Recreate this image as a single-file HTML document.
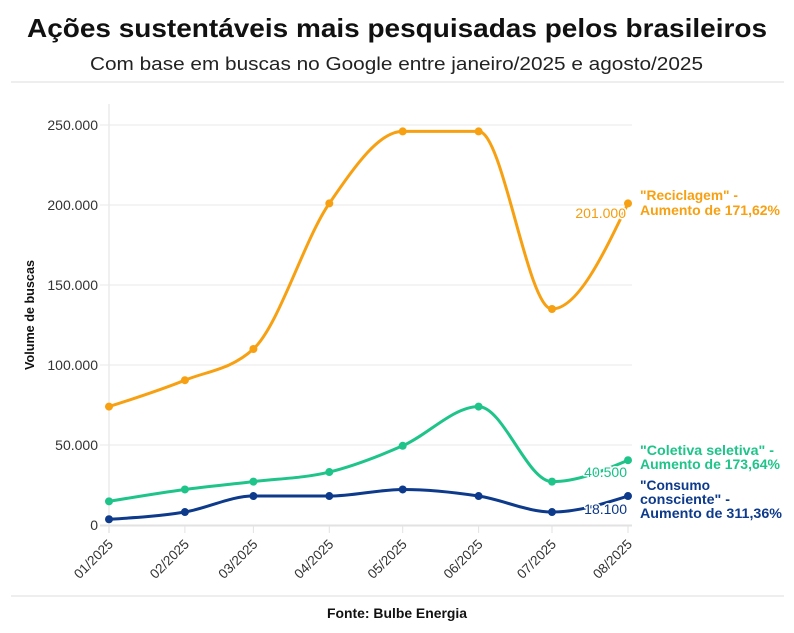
<!DOCTYPE html>
<html>
<head>
<meta charset="utf-8">
<style>
  html, body { margin:0; padding:0; background:#fff; }
  svg { display:block; }
  text { font-family: "Liberation Sans", "DejaVu Sans", sans-serif; }
</style>
</head>
<body>
<svg id="chart" width="794" height="633" viewBox="0 0 794 633" xmlns="http://www.w3.org/2000/svg">
  <rect x="0" y="0" width="794" height="633" fill="#ffffff"/>
  <!-- Title -->
  <text x="27" y="37" font-size="26" font-weight="bold" fill="#111" textLength="740" lengthAdjust="spacingAndGlyphs">Ações sustentáveis mais pesquisadas pelos brasileiros</text>
  <text x="90" y="70" font-size="18" fill="#222" textLength="613" lengthAdjust="spacingAndGlyphs">Com base em buscas no Google entre janeiro/2025 e agosto/2025</text>
  <line x1="11" y1="82" x2="784" y2="82" stroke="#dcdcdc" stroke-width="1"/>

  <!-- horizontal grid -->
  <g stroke="#e9e9e9" stroke-width="1">
    <line x1="100" y1="125" x2="632" y2="125"/>
    <line x1="100" y1="205" x2="632" y2="205"/>
    <line x1="100" y1="285" x2="632" y2="285"/>
    <line x1="100" y1="365" x2="632" y2="365"/>
    <line x1="100" y1="445" x2="632" y2="445"/>
  </g>
  <!-- left axis line -->
  <line x1="109" y1="104" x2="109" y2="533" stroke="#ebebeb" stroke-width="1.5"/>
  <!-- x ticks -->
  <g id="vgrid" stroke="#e2e2e2" stroke-width="1"></g>
  <line x1="100" y1="525.5" x2="632" y2="525.5" stroke="#e2e2e2" stroke-width="2"/>

  <!-- y tick labels -->
  <g font-size="14" fill="#333" text-anchor="end">
    <text x="98" y="130">250.000</text>
    <text x="98" y="210">200.000</text>
    <text x="98" y="290">150.000</text>
    <text x="98" y="370">100.000</text>
    <text x="98" y="450">50.000</text>
    <text x="98" y="530">0</text>
  </g>
  <text transform="translate(34,315) rotate(-90)" text-anchor="middle" font-size="12.5" font-weight="bold" fill="#111" textLength="110" lengthAdjust="spacingAndGlyphs">Volume de buscas</text>

  <!-- x labels -->
  <g id="xlabels" font-size="13.5" fill="#333" text-anchor="end"></g>

  <!-- series -->
  <g id="series"></g>

  <!-- value labels -->
  <g font-size="14" text-anchor="end" stroke="#fff" stroke-width="3" paint-order="stroke" stroke-linejoin="round">
    <text x="626" y="218" fill="#f59c0c">201.000</text>
    <text x="627" y="477" fill="#17c087">40.500</text>
    <text x="627" y="514" fill="#0b3686">18.100</text>
  </g>

  <!-- series labels -->
  <g font-size="14" font-weight="bold">
    <text x="640" y="200" fill="#f7a012" textLength="98" lengthAdjust="spacingAndGlyphs">"Reciclagem" -</text>
    <text x="640" y="215" fill="#f7a012" textLength="140" lengthAdjust="spacingAndGlyphs">Aumento de 171,62%</text>
    <text x="640" y="455" fill="#1ec48a" textLength="134" lengthAdjust="spacingAndGlyphs">"Coletiva seletiva" -</text>
    <text x="640" y="469" fill="#1ec48a" textLength="140" lengthAdjust="spacingAndGlyphs">Aumento de 173,64%</text>
    <text x="640" y="490" fill="#0d3a8b" textLength="70" lengthAdjust="spacingAndGlyphs">"Consumo</text>
    <text x="640" y="504" fill="#0d3a8b" textLength="90" lengthAdjust="spacingAndGlyphs">consciente" -</text>
    <text x="640" y="518" fill="#0d3a8b" textLength="142" lengthAdjust="spacingAndGlyphs">Aumento de 311,36%</text>
  </g>

  <line x1="11" y1="596" x2="784" y2="596" stroke="#dcdcdc" stroke-width="1"/>
  <text x="397" y="618" text-anchor="middle" font-size="14" font-weight="bold" fill="#111" textLength="140" lengthAdjust="spacingAndGlyphs">Fonte: Bulbe Energia</text>
</svg>
<script>
(function(){
  var NS = "http://www.w3.org/2000/svg";
  var xs = [109, 184.9, 253.4, 329.3, 402.7, 478.6, 552, 628];
  var labels = ["01/2025","02/2025","03/2025","04/2025","05/2025","06/2025","07/2025","08/2025"];
  function Y(v){ return 525 - v*0.0016; }
  var vg = document.getElementById("vgrid");
  var xl = document.getElementById("xlabels");
  xs.forEach(function(x, i){
    var l = document.createElementNS(NS, "line");
    l.setAttribute("x1", x); l.setAttribute("x2", x);
    l.setAttribute("y1", 526); l.setAttribute("y2", 533);
    vg.appendChild(l);
    var t = document.createElementNS(NS, "text");
    t.setAttribute("transform", "translate(" + (x+5) + ",545) rotate(-45)");
    t.textContent = labels[i];
    xl.appendChild(t);
  });
  var series = [
    {c:"#0d3a8b", v:[3600,8100,18100,18100,22200,18100,8100,18100]},
    {c:"#1ec48a", v:[14800,22200,27100,33100,49500,74000,27100,40500]},
    {c:"#f7a012", v:[74000,90500,110000,201000,246000,246000,135000,201000]}
  ];
  function sign(a){ return a<0?-1:(a>0?1:0); }
  function mono(px, py){
    var n = px.length, t = [], s = [];
    for (var i=0;i<n-1;i++) s[i] = (py[i+1]-py[i])/(px[i+1]-px[i]);
    for (var i=1;i<n-1;i++){
      var h0 = px[i]-px[i-1], h1 = px[i+1]-px[i];
      var s0 = s[i-1], s1 = s[i];
      var p = (s0*h1 + s1*h0)/(h0+h1);
      t[i] = (sign(s0)+sign(s1)) * Math.min(Math.abs(s0), Math.abs(s1), 0.5*Math.abs(p)) || 0;
    }
    t[0] = (3*s[0] - t[1])/2;
    t[n-1] = (3*s[n-2] - t[n-2])/2;
    var d = "M" + px[0] + "," + py[0];
    for (var i=0;i<n-1;i++){
      var dx = (px[i+1]-px[i])/3;
      d += "C" + (px[i]+dx) + "," + (py[i]+dx*t[i]) + "," + (px[i+1]-dx) + "," + (py[i+1]-dx*t[i+1]) + "," + px[i+1] + "," + py[i+1];
    }
    return d;
  }
  var g = document.getElementById("series");
  series.forEach(function(se){
    var py = se.v.map(Y);
    var path = document.createElementNS(NS, "path");
    path.setAttribute("d", mono(xs, py));
    path.setAttribute("fill", "none");
    path.setAttribute("stroke", se.c);
    path.setAttribute("stroke-width", "3");
    path.setAttribute("stroke-linejoin", "round");
    path.setAttribute("stroke-linecap", "round");
    g.appendChild(path);
    xs.forEach(function(x, i){
      var c = document.createElementNS(NS, "circle");
      c.setAttribute("cx", x); c.setAttribute("cy", py[i]); c.setAttribute("r", 4);
      c.setAttribute("fill", se.c);
      g.appendChild(c);
    });
  });
})();
</script>
</body>
</html>
